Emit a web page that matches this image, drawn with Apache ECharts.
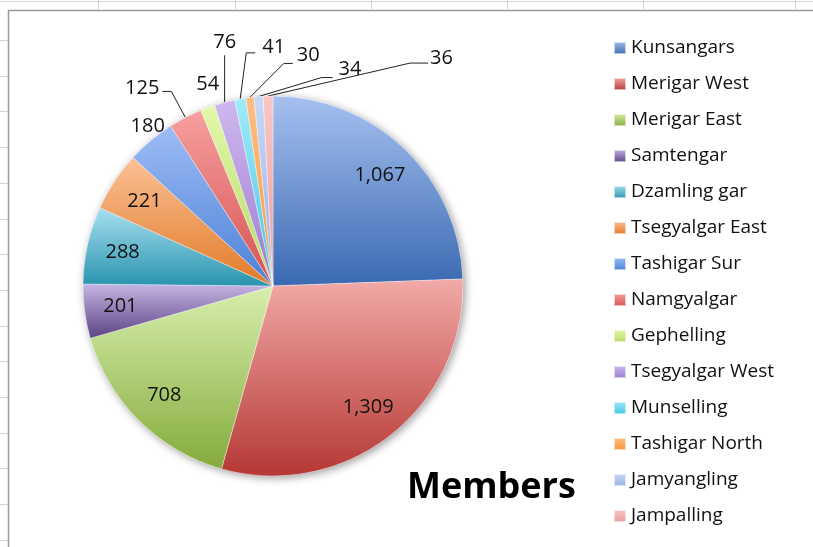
<!DOCTYPE html>
<html>
<head>
<meta charset="utf-8">
<script src="https://cdn.jsdelivr.net/npm/echarts@6/dist/echarts.min.js"></script>
<style>
  html, body { margin: 0; padding: 0; background: #fff; }
  #main { width: 813px; height: 547px; }
</style>
</head>
<body>
<div id="main"></div>
<script>
// data
const names = ['Kunsangars', 'Merigar West', 'Merigar East', 'Samtengar', 'Dzamling gar', 'Tsegyalgar East',
  'Tashigar Sur', 'Namgyalgar', 'Gephelling', 'Tsegyalgar West', 'Munselling', 'Tashigar North', 'Jamyangling', 'Jampalling']
const members = [1067, 1309, 708, 201, 288, 221, 180, 125, 54, 76, 41, 30, 34, 36]
const titleText = 'Members'

// colours, light at the top of each slice, dark at the bottom
const topColors = ['#a6c1f0', '#f2aaa8', '#d8efad', '#c6b6e4', '#a8e0f1', '#fcc196', '#9dbdf6', '#f7a0a0',
  '#e2f8ab', '#cfb8ef', '#a2ebf9', '#ffbf85', '#c8d9f6', '#f9c7c7']
const bottomColors = ['#3a69b2', '#b53834', '#84ab3c', '#5c4283', '#2893ad', '#e07a28', '#4b80d6', '#d45250',
  '#b5da66', '#9a7bcf', '#42c5e4', '#f8973c', '#95b1e5', '#e99d9d']

// slices labelled inside, the rest get outer labels
const insideCount = 6
const font = '"Open Sans", Lato, sans-serif'

// where each outer label goes, relative to its slice edge point: [elbow, end], label pos, align
const outerPlace = {
  'Tashigar Sur': {line: null, label: [-3, -14], align: 'center'},
  'Namgyalgar': {line: [[-14, -26], [-23, -26]], label: [-26, -29], align: 'right'},
  'Gephelling': {line: null, label: [0, -23], align: 'center'},
  'Tsegyalgar West': {line: [[0, -47], [0, -47]], label: [0, -60], align: 'center'},
  'Munselling': {line: [[6, -46], [15, -46]], label: [22, -52], align: 'left'},
  'Tashigar North': {line: [[34, -34], [43, -34]], label: [47, -42], align: 'left'},
  'Jamyangling': {line: [[63, -19], [74, -19]], label: [80, -27], align: 'left'},
  'Jampalling': {line: [[142, -33], [160, -33]], label: [162, -38], align: 'left'}
}

const fmt = v => String(v).replace(/\B(?=(\d{3})+(?!\d))/g, ',')

function grad (i) {
  return new echarts.graphic.LinearGradient(0, 0, 0, 1, [
    {offset: 0, color: topColors[i]},
    {offset: 1, color: bottomColors[i]}
  ])
}

const center = [273, 286]
const radius = 190

const pieData = names.map((n, i) => {
  const outer = i >= insideCount
  const p = outerPlace[n]
  return {
    name: n,
    value: members[i],
    itemStyle: {color: grad(i)},
    label: {show: outer},
    labelLine: {show: outer, length: 10, length2: 5, lineStyle: {opacity: p && p.line ? 1 : 0}}
  }
})

const labelData = names.map((n, i) => ({
  name: n,
  value: members[i],
  label: {show: i < insideCount}
}))

// excel sheet grid behind the chart
const gridLines = []
;[98, 235, 371, 507, 643, 795].forEach(x => {
  gridLines.push({type: 'line', shape: {x1: x + 0.5, y1: 0, x2: x + 0.5, y2: 10}, style: {stroke: '#d4d4d4', lineWidth: 1}, silent: true})
})
gridLines.push({type: 'line', shape: {x1: 0, y1: 1.5, x2: 813, y2: 1.5}, style: {stroke: '#d4d4d4', lineWidth: 1}, silent: true})
for (let y = 40; y < 547; y += 35.7) {
  gridLines.push({type: 'line', shape: {x1: 0, y1: Math.round(y) + 0.5, x2: 8, y2: Math.round(y) + 0.5}, style: {stroke: '#d4d4d4', lineWidth: 1}, silent: true})
}
gridLines.push({type: 'rect', shape: {x: 8.5, y: 10.5, width: 820, height: 560}, style: {fill: '#fff', stroke: '#9a9a9a', lineWidth: 1.5}, silent: true, z: -1})

const option = {
  animation: false,
  backgroundColor: '#fff',
  textStyle: {fontFamily: font},
  graphic: gridLines,
  title: {
    text: titleText,
    left: 407,
    top: 470,
    padding: 0,
    textStyle: {fontFamily: font, fontSize: 36, fontWeight: 'bold', color: '#000'}
  },
  legend: {
    orient: 'vertical',
    left: 613,
    top: 38,
    padding: 0,
    icon: 'rect',
    itemWidth: 12,
    itemHeight: 12,
    itemGap: 16,
    selectedMode: false,
    data: names,
    textStyle: {fontFamily: font, fontSize: 19, lineHeight: 20, color: '#111'}
  },
  series: [
    {
      // soft drop shadow under the whole pie
      type: 'pie',
      silent: true,
      center: center,
      radius: radius,
      label: {show: false},
      labelLine: {show: false},
      itemStyle: {color: '#fff', shadowBlur: 8, shadowColor: 'rgba(0,0,0,0.4)', shadowOffsetX: 2, shadowOffsetY: 2},
      data: [{name: '', value: 1}]
    },
    {
      type: 'pie',
      silent: true,
      center: center,
      radius: radius,
      startAngle: 90,
      clockwise: true,
      avoidLabelOverlap: false,
      itemStyle: {borderColor: 'rgba(255,255,255,0.6)', borderWidth: 0.6},
      label: {
        position: 'outside',
        formatter: p => fmt(p.value),
        fontFamily: font,
        fontSize: 20,
        color: '#111'
      },
      labelLine: {lineStyle: {color: '#222', width: 1}},
      labelLayout: function (params) {
        const n = names[params.dataIndex]
        const p = outerPlace[n]
        if (!p || !params.labelLinePoints) return {}
        const a = params.labelLinePoints[0]
        const out = {
          x: a[0] + p.label[0],
          y: a[1] + p.label[1],
          align: p.align,
          verticalAlign: 'middle'
        }
        if (p.line) {
          out.labelLinePoints = [a.slice(), [a[0] + p.line[0][0], a[1] + p.line[0][1]], [a[0] + p.line[1][0], a[1] + p.line[1][1]]]
        } else {
          out.labelLinePoints = [a.slice(), a.slice(), a.slice()]
        }
        return out
      },
      data: pieData
    },
    {
      // transparent copy that only carries the inside labels
      type: 'pie',
      silent: true,
      center: center,
      radius: [112, radius],
      startAngle: 90,
      clockwise: true,
      itemStyle: {color: 'rgba(0,0,0,0)'},
      label: {
        position: 'inside',
        formatter: p => fmt(p.value),
        fontFamily: font,
        fontSize: 20,
        color: '#111'
      },
      labelLine: {show: false},
      data: labelData
    }
  ]
}

echarts.init(document.getElementById('main')).setOption(option)
</script>
</body>
</html>
